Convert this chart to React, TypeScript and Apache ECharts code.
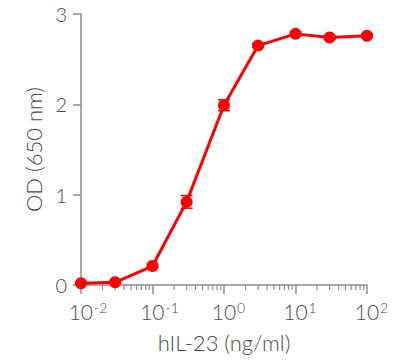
import React, { useEffect, useRef } from "react";
import * as echarts from "echarts";

const concentrations = [0.01, 0.03, 0.1, 0.3, 1, 3, 10, 30, 100];
const odValues = [0.02, 0.03, 0.21, 0.92, 1.99, 2.65, 2.78, 2.74, 2.76];
const odErrors = [0.01, 0.01, 0.02, 0.07, 0.06, 0.02, 0.02, 0.02, 0.02];
const minorTickValues = [
  0.02, 0.03, 0.04, 0.05, 0.06, 0.07, 0.08, 0.09,
  0.2, 0.3, 0.4, 0.5, 0.6, 0.7, 0.8, 0.9,
  2, 3, 4, 5, 6, 7, 8, 9,
  20, 30, 40, 50, 60, 70, 80, 90,
];
const yTicks = [0, 1, 2, 3];

const RED = "#ff0000";
const AXIS = "#8c8c8c";
const TEXT = "#4a4a4a";
const FONT = "Lato";

export default function App() {
  const ref = useRef<HTMLDivElement>(null);
  useEffect(() => {
    if (!ref.current) return;
    const chart = echarts.init(ref.current, null, { renderer: "svg" });
    const points = concentrations.map((c, i) => [c, odValues[i]]);
    const errData = concentrations.map((c, i) => [c, odValues[i], odErrors[i]]);
    chart.setOption({
      animation: false,
      grid: { left: 81, right: 33, top: 14, bottom: 75 },
      xAxis: {
        type: "log",
        logBase: 10,
        min: 0.01,
        max: 100,
        name: "hIL-23 (ng/ml)",
        nameLocation: "middle",
        nameGap: 46,
        nameTextStyle: { fontFamily: FONT, fontWeight: 300, fontSize: 22, color: TEXT },
        axisLine: { lineStyle: { color: AXIS, width: 1.5 } },
        axisTick: { length: 9, lineStyle: { color: AXIS, width: 1.5 } },
        splitLine: { show: false },
        axisLabel: {
          margin: 15,
          formatter: (v: number) => {
            const e = Math.round(Math.log10(v));
            return e < 0 ? `{pw|}{b|10}{s|${e}}` : `{pn|}{b|10}{s|${e}}`;
          },
          rich: {
            pw: { width: 14 },
            pn: { width: 9 },
            b: { fontFamily: FONT, fontWeight: 300, fontSize: 21, color: TEXT, lineHeight: 22 },
            s: { fontFamily: FONT, fontWeight: 300, fontSize: 14, color: TEXT, verticalAlign: "top", lineHeight: 16, padding: [0, 0, 0, 1] },
          },
        },
      },
      yAxis: {
        type: "value",
        min: 0,
        max: 3,
        interval: 1,
        name: "OD (650 nm)",
        nameLocation: "middle",
        nameGap: 30,
        nameTextStyle: { fontFamily: FONT, fontWeight: 300, fontSize: 22, color: TEXT },
        axisLine: { show: true, lineStyle: { color: AXIS, width: 1.5 } },
        axisTick: { show: true, length: 8, lineStyle: { color: AXIS, width: 1.5 } },
        splitLine: { show: false },
        axisLabel: {
          margin: 14,
          fontFamily: FONT,
          fontWeight: 300,
          fontSize: 20,
          color: TEXT,
          formatter: (v: number) => (yTicks.includes(v) ? String(v) : ""),
        },
      },
      series: [
        {
          type: "custom",
          clip: false,
          silent: true,
          z: 1,
          data: minorTickValues.map((v) => [v, 0]),
          renderItem: (_params: any, api: any) => {
            const p = api.coord([api.value(0), 0]);
            return {
              type: "line",
              shape: { x1: p[0], y1: p[1], x2: p[0], y2: p[1] + 5 },
              style: { stroke: AXIS, lineWidth: 1.2 },
            };
          },
        },
        {
          type: "custom",
          clip: false,
          silent: true,
          z: 3,
          data: errData,
          renderItem: (_params: any, api: any) => {
            const x = api.value(0);
            const y = api.value(1);
            const e = api.value(2);
            const top = api.coord([x, y + e]);
            const bot = api.coord([x, y - e]);
            const hw = 6;
            const style = { stroke: RED, lineWidth: 1.5 };
            return {
              type: "group",
              children: [
                { type: "line", shape: { x1: top[0], y1: top[1], x2: bot[0], y2: bot[1] }, style },
                { type: "line", shape: { x1: top[0] - hw, y1: top[1], x2: top[0] + hw, y2: top[1] }, style },
                { type: "line", shape: { x1: bot[0] - hw, y1: bot[1], x2: bot[0] + hw, y2: bot[1] }, style },
              ],
            };
          },
        },
        {
          type: "line",
          data: points,
          z: 4,
          symbol: "circle",
          symbolSize: 12,
          clip: false,
          lineStyle: { color: RED, width: 3 },
          itemStyle: { color: RED },
        },
      ],
    });
    return () => chart.dispose();
  }, []);
  return <div ref={ref} style={{ width: 400, height: 360, position: "absolute", left: 0, top: 0 }} />;
}
